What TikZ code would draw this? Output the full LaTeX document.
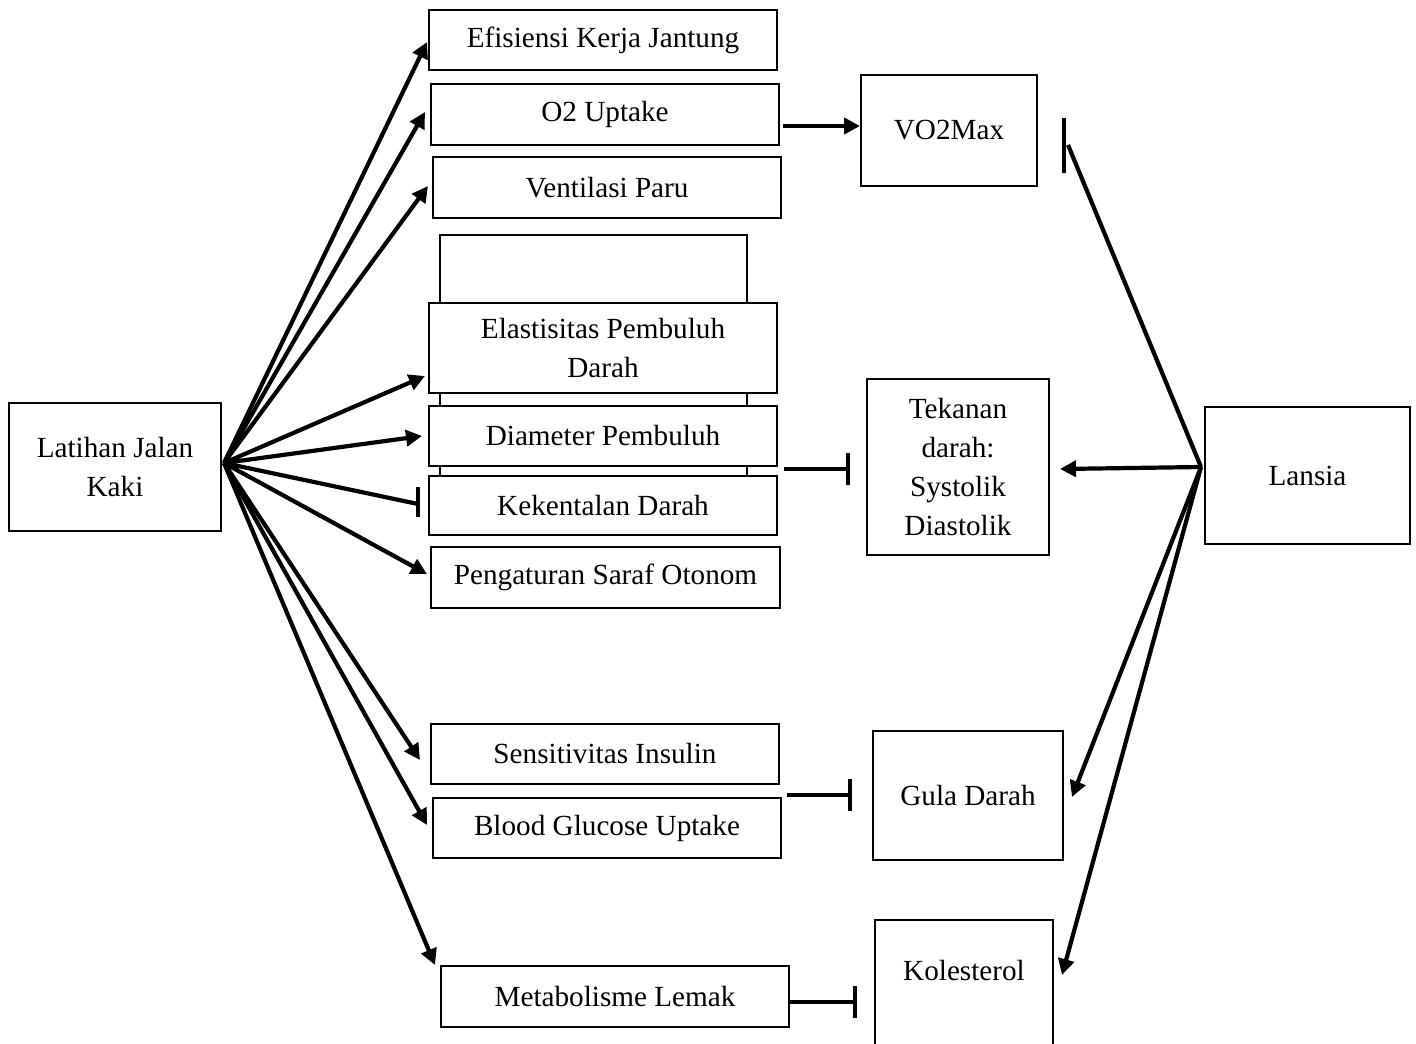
\documentclass[tikz,border=0pt]{standalone}
\usepackage{fontspec}
\setmainfont{Liberation Serif}
\usetikzlibrary{arrows.meta,calc}
\begin{document}
\begin{tikzpicture}[x=0.5pt,y=-0.5pt,
 txt/.style={font=\fontsize{14.6}{19.5}\selectfont,align=center},
 box/.style={txt,draw,line width=1.1pt,fill=white,inner sep=0pt},
 arr/.style={line width=2.1pt,-{Triangle[length=8pt,width=8pt]}},
 plain/.style={line width=2.1pt},
 tbar/.style={line width=2.1pt,-{Bar[width=16pt]}}]
\useasboundingbox (0,0) rectangle (1416,1043);
% left column
\node[box,minimum width=106pt,minimum height=64pt] (lat) at (115,467) {Latihan Jalan\\Kaki};
\node[box,minimum width=174pt,minimum height=30pt] (ef) at (603,40) {Efisiensi Kerja Jantung};
\node[box,minimum width=174pt,minimum height=30.5pt] (o2) at (605,114.5) {O2 Uptake};
\node[box,minimum width=174pt,minimum height=30.5pt] (ve) at (607,187.5) {Ventilasi Paru};
\node[box,minimum width=153.5pt,minimum height=142.5pt] (bg) at (593.5,377.5) {};
\node[box,minimum width=174pt,minimum height=45pt] (el) at (603,348) {Elastisitas Pembuluh\\Darah};
\node[box,minimum width=174pt,minimum height=30pt] (di) at (603,436) {Diameter Pembuluh};
\node[box,minimum width=174pt,minimum height=29.5pt] (ke) at (603,505.5) {Kekentalan Darah};
\node[box,minimum width=174.5pt,minimum height=30.5pt] (pe) at (605.5,577.5) {Pengaturan Saraf Otonom};
\node[box,minimum width=174pt,minimum height=30pt] (se) at (605,754) {Sensitivitas Insulin};
\node[box,minimum width=174pt,minimum height=30pt] (bl) at (607,828) {Blood Glucose Uptake};
\node[box,minimum width=174pt,minimum height=30.5pt] (me) at (615,996.5) {Metabolisme Lemak};
% middle column
\node[box,minimum width=88pt,minimum height=55.5pt] (vo) at (949,130.5) {VO2Max};
\node[box,minimum width=91pt,minimum height=88pt] (te) at (958,467) {Tekanan\\darah:\\Systolik\\Diastolik};
\node[box,minimum width=95pt,minimum height=64.5pt] (gu) at (968,795.5) {Gula Darah};
\node[box,minimum width=89pt,minimum height=70pt] (ko) at (964,990) {};
\node[txt] (kot) at (964,970) {Kolesterol};
% right
\node[box,minimum width=102.5pt,minimum height=68.5pt] (la) at (1307.5,475.5) {Lansia};
% hubs and ends
\coordinate (hub) at (224,463);
\coordinate (lhub) at (1201,467);
\coordinate (tef) at (427,42);
\coordinate (to2) at (425,112);
\coordinate (tve) at (428,186);
\coordinate (tel) at (425,376);
\coordinate (tdi) at (422,436);
\coordinate (tke) at (418,504);
\coordinate (kb1) at (418,487);
\coordinate (kb2) at (418,517);
\coordinate (tpe) at (427,574);
\coordinate (tse) at (420,760);
\coordinate (tbl) at (427,825);
\coordinate (tme) at (435,965);
\draw[arr] (hub) -- (tef);
\draw[arr] (hub) -- (to2);
\draw[arr] (hub) -- (tve);
\draw[arr] (hub) -- (tel);
\draw[arr] (hub) -- (tdi);
\draw[plain] (hub) -- (tke);
\draw[line width=2.2pt] (kb1) -- (kb2);
\draw[arr] (hub) -- (tpe);
\draw[arr] (hub) -- (tse);
\draw[arr] (hub) -- (tbl);
\draw[arr] (hub) -- (tme);
% middle connectors
\coordinate (o2s) at (783,126);
\coordinate (vot) at (860,126);
\draw[arr] (o2s) -- (vot);
\coordinate (dks) at (784,469);
\coordinate (dkt) at (850,469);
\draw[tbar] (dks) -- (dkt);
\coordinate (sbs) at (787,795);
\coordinate (sbt) at (852,795);
\draw[tbar] (sbs) -- (sbt);
\coordinate (mes) at (790,1002);
\coordinate (met) at (857,1002);
\draw[tbar] (mes) -- (met);
% Lansia connectors
\coordinate (tvo) at (1068,145);
\coordinate (vb1) at (1064,118);
\coordinate (vb2) at (1064,173);
\draw[plain] (lhub) -- (tvo);
\draw[line width=2.2pt] (vb1) -- (vb2);
\coordinate (tte) at (1060,469);
\coordinate (tgu) at (1072,797);
\coordinate (tko) at (1062,975);
\draw[arr] (lhub) -- (tte);
\draw[arr] (lhub) -- (tgu);
\draw[arr] (lhub) -- (tko);
\end{tikzpicture}
\end{document}
